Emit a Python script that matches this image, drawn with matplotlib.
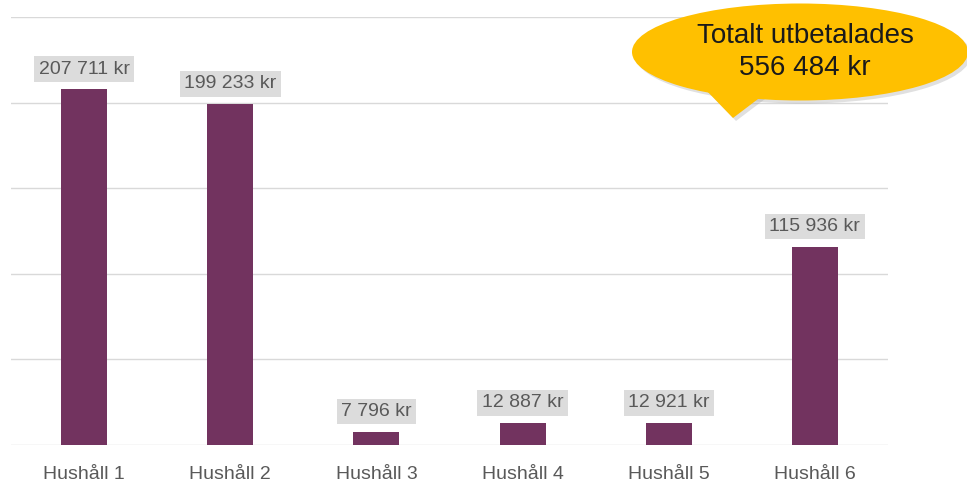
import matplotlib.pyplot as plt
from matplotlib.patches import Ellipse, Polygon

households = ["Hushåll 1", "Hushåll 2", "Hushåll 3", "Hushåll 4", "Hushåll 5", "Hushåll 6"]
payouts = [207711, 199233, 7796, 12887, 12921, 115936]
total = 556484


def kr(v):
    return f"{v:,}".replace(",", " ") + " kr"


W, H = 967, 483
fig = plt.figure(figsize=(W / 100, H / 100), dpi=100)
ax = fig.add_axes([11 / W, 38 / H, 877 / W, 428 / H])

x = range(len(households))
bars = ax.bar(x, payouts, width=0.315, color="#72335F", zorder=3)

ax.set_xlim(-0.5, len(households) - 0.5)
ax.set_ylim(0, 250000)
ax.set_yticks(range(0, 250001, 50000))
ax.yaxis.grid(True, color="#d9d9d9", lw=1)
ax.tick_params(axis="y", left=False, labelleft=False)
ax.tick_params(axis="x", length=0, pad=15, labelsize=14, labelcolor="#595959")
ax.set_xticks(list(x))
ax.set_xticklabels(households, fontfamily="Liberation Sans")
for s in ax.spines.values():
    s.set_visible(False)

# value labels above bars
for b, v in zip(bars, payouts):
    ax.annotate(kr(v), (b.get_x() + b.get_width() / 2, v), xytext=(0, 14.5),
                textcoords="offset points", ha="center", va="center",
                fontsize=14, color="#595959", fontfamily="Liberation Sans",
                bbox=dict(boxstyle="square,pad=0.22", fc="#dcdcdc", ec="none"),
                zorder=4)


# callout bubble (pixel coords -> figure fraction)
def fx(px):
    return px / W


def fy(py):
    return 1 - py / H


tr = fig.transFigure
shadow = 3
for off, col, al in [(shadow, "#999999", 0.3), (0, "#FFC000", 1.0)]:
    tail = Polygon([(fx(704 + off), fy(88 + off)), (fx(762 + off), fy(96 + off)),
                    (fx(733 + off), fy(118 + off))],
                   closed=True, transform=tr, fc=col, ec="none", alpha=al)
    ell = Ellipse((fx(800 + off), fy(52 + off)), 336 / W, 97 / H,
                  transform=tr, fc=col, ec="none", alpha=al)
    fig.patches.extend([tail, ell])

fig.text(fx(805), fy(52), "Totalt utbetalades\n" + kr(total), ha="center", va="center",
         fontsize=20, color="#1a1a1a", fontfamily="Liberation Sans", linespacing=1.3)

fig.savefig("out.png", dpi=100)
